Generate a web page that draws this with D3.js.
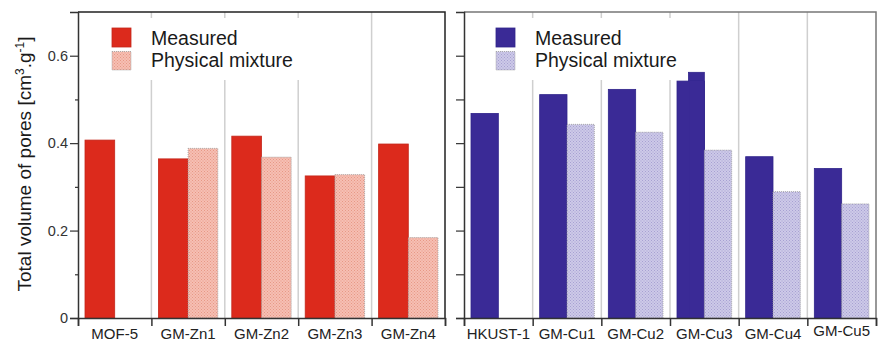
<!DOCTYPE html>
<html>
<head>
<meta charset="utf-8">
<script src="https://cdn.jsdelivr.net/npm/d3@7"></script>
<style>
  body { margin: 0; background: #fff; }
  svg { display: block; font-family: Arial, "Liberation Sans", sans-serif; }
</style>
</head>
<body>
<div id="area"></div>
<script>
var znCats = ["MOF-5", "GM-Zn1", "GM-Zn2", "GM-Zn3", "GM-Zn4"];
var znMeasured = [0.407, 0.364, 0.416, 0.325, 0.398];
var znPhysical = [null, 0.388, 0.368, 0.328, 0.184];

var cuCats = ["HKUST-1", "GM-Cu1", "GM-Cu2", "GM-Cu3", "GM-Cu4", "GM-Cu5"];
var cuMeasured = [0.468, 0.511, 0.523, 0.542, 0.369, 0.342];
var cuPhysical = [null, 0.443, 0.425, 0.384, 0.289, 0.261];
// GM-Cu3 measured bar has a raised step on its right part
var cuMeasuredStep = [null, null, null, 0.562, null, null];

var seriesKeys = ["measured", "physical"];
var legendLabels = ["Measured", "Physical mixture"];
var yTicksMajor = [0, 0.2, 0.4, 0.6];
var yTicksMinor = [0.1, 0.3, 0.5];
var yTicksAll = [0, 0.1, 0.2, 0.3, 0.4, 0.5, 0.6];

var W = 878, H = 342;
var plotTop = 12, plotBottom = 318;

var svg = d3.select("#area").append("svg")
  .attr("width", W).attr("height", H);

var defs = svg.append("defs");
function hatch(id, bg, dot) {
  var p = defs.append("pattern").attr("id", id)
    .attr("width", 3).attr("height", 3)
    .attr("patternUnits", "userSpaceOnUse");
  p.append("rect").attr("width", 3).attr("height", 3).attr("fill", bg);
  p.append("rect").attr("width", 1).attr("height", 1).attr("fill", dot);
  p.append("rect").attr("x", 1.5).attr("y", 1.5).attr("width", 1).attr("height", 1).attr("fill", dot);
}
hatch("pinkHatch", "#f6bfb3", "#e79886");
hatch("lavHatch", "#cdc9e8", "#a7a1d2");

var y = d3.scaleLinear().domain([0, 0.7]).range([plotBottom, plotTop]);

function panel(opt) {
  var g = svg.append("g");
  var n = opt.cats.length;
  var x = d3.scaleBand().domain(opt.cats).range([opt.x0, opt.x1]);
  var bw = x.bandwidth();
  var xs = d3.scaleBand().domain(seriesKeys).range([7, bw - 7]);
  var edges = d3.scaleLinear().domain([0, n]).range([opt.x0, opt.x1]);

  // separators between categories
  g.selectAll(".sep").data(d3.range(1, n)).enter().append("line")
    .attr("x1", function (d) { return edges(d); })
    .attr("x2", function (d) { return edges(d); })
    .attr("y1", y(0.7)).attr("y2", y(0))
    .attr("stroke", "#cfcfcf").attr("stroke-width", 1.5);

  // legend box background
  g.append("rect")
    .attr("x", opt.x0 + 20).attr("y", 18)
    .attr("width", opt.legendW).attr("height", 62)
    .attr("fill", "#fff");

  var rows = opt.cats.map(function (c, i) {
    return { cat: c, measured: opt.measured[i], physical: opt.physical[i], step: opt.step ? opt.step[i] : null };
  });

  g.selectAll(".st").data(rows.filter(function (d) { return d.step != null; })).enter().append("rect")
    .attr("x", function (d) { return x(d.cat) + xs("measured") + xs.bandwidth() * 0.42; })
    .attr("y", function (d) { return y(d.step); })
    .attr("width", xs.bandwidth() * 0.58)
    .attr("height", function (d) { return y(0) - y(d.step); })
    .attr("fill", opt.color).attr("stroke", opt.stroke).attr("stroke-width", 0.8);

  g.selectAll(".m").data(rows).enter().append("rect")
    .attr("x", function (d) { return x(d.cat) + xs("measured"); })
    .attr("y", function (d) { return y(d.measured); })
    .attr("width", xs.bandwidth())
    .attr("height", function (d) { return y(0) - y(d.measured); })
    .attr("fill", opt.color).attr("stroke", opt.stroke).attr("stroke-width", 0.8);

  // hide the seam between a stepped bar and its base
  g.selectAll(".seam").data(rows.filter(function (d) { return d.step != null; })).enter().append("rect")
    .attr("x", function (d) { return x(d.cat) + xs("measured") + xs.bandwidth() * 0.42 + 0.6; })
    .attr("y", function (d) { return y(d.measured) - 0.2; })
    .attr("width", xs.bandwidth() * 0.58 - 1.2)
    .attr("height", function (d) { return y(0) - y(d.measured) - 0.5; })
    .attr("fill", opt.color);

  g.selectAll(".p").data(rows.filter(function (d) { return d.physical != null; })).enter().append("rect")
    .attr("x", function (d) { return x(d.cat) + xs("physical"); })
    .attr("y", function (d) { return y(d.physical); })
    .attr("width", xs.bandwidth())
    .attr("height", function (d) { return y(0) - y(d.physical); })
    .attr("fill", "url(#" + opt.hatch + ")")
    .attr("stroke", "#9a9a9a").attr("stroke-width", 0.8).attr("stroke-dasharray", "1,1");

  // frame top + right
  g.append("path")
    .attr("d", "M" + opt.x0 + "," + y(0.7) + "H" + opt.x1 + "V" + y(0))
    .attr("fill", "none").attr("stroke", opt.frame).attr("stroke-width", 1.5);

  // x axis with ticks at category edges
  var xa = g.append("g").attr("transform", "translate(0," + y(0) + ")")
    .call(d3.axisBottom(edges).tickValues(d3.range(n + 1)).tickSize(8).tickFormat(""));
  xa.select(".domain").attr("stroke", "#333").attr("stroke-width", 1.5);
  xa.selectAll(".tick line").attr("stroke", "#333").attr("stroke-width", 1.5);

  var xl = g.append("g").attr("transform", "translate(0," + y(0) + ")")
    .call(d3.axisBottom(x).tickSize(0).tickPadding(10));
  xl.select(".domain").remove();
  xl.selectAll("text").attr("font-size", 15).attr("fill", "#222")
    .attr("dy", function (d) { return d === "GM-Cu5" ? "0.5em" : "0.71em"; });

  // y axis
  var ya = g.append("g").attr("transform", "translate(" + opt.x0 + ",0)");
  if (opt.labels) {
    ya.call(d3.axisLeft(y).tickValues(yTicksMajor).tickSize(8).tickPadding(2)
      .tickFormat(function (d) { return d === 0 ? "0" : d3.format(".1f")(d); }));
    ya.selectAll("text").attr("font-size", 14.5).attr("fill", "#333");
    var ym = g.append("g").attr("transform", "translate(" + opt.x0 + ",0)")
      .call(d3.axisLeft(y).tickValues(yTicksMinor).tickSize(3).tickFormat(""));
    ym.select(".domain").remove();
    ym.selectAll("line").attr("stroke", "#333").attr("stroke-width", 1.2);
  } else {
    ya.call(d3.axisLeft(y).tickValues(yTicksAll).tickSize(8).tickFormat(""));
  }
  ya.select(".domain").attr("stroke", "#333").attr("stroke-width", 1.5);
  ya.selectAll(".tick line").attr("stroke", "#333").attr("stroke-width", 1.2);

  // legend
  var lg = g.append("g");
  var lx = opt.x0 + opt.legendDx;
  lg.append("rect").attr("x", lx).attr("y", 28).attr("width", 19).attr("height", 19)
    .attr("fill", opt.color).attr("stroke", opt.stroke).attr("stroke-width", 0.8);
  lg.append("rect").attr("x", lx).attr("y", 51.5).attr("width", 19).attr("height", 18.5)
    .attr("fill", "url(#" + opt.hatch + ")").attr("stroke", "#9a9a9a").attr("stroke-width", 0.8).attr("stroke-dasharray", "1,1");
  lg.selectAll("text").data(legendLabels).enter().append("text")
    .attr("x", lx + 39)
    .attr("y", function (d, i) { return 45 + i * 22; })
    .attr("font-size", 19.5).attr("fill", "#1a1a1a")
    .text(function (d) { return d; });
}

panel({
  cats: znCats, measured: znMeasured, physical: znPhysical,
  x0: 78, x1: 445, color: "#dc2a1c", stroke: "#c4271b", hatch: "pinkHatch",
  frame: "#222", labels: true, legendW: 204, legendDx: 34
});

panel({
  cats: cuCats, measured: cuMeasured, physical: cuPhysical, step: cuMeasuredStep,
  x0: 464, x1: 876, color: "#3a2a96", stroke: "#30248a", hatch: "lavHatch",
  frame: "#777", labels: false, legendW: 204, legendDx: 32
});

// y axis title
var title = svg.append("text")
  .attr("transform", "translate(31,164) rotate(-90)")
  .attr("text-anchor", "middle")
  .attr("font-size", 19).attr("fill", "#1a1a1a");
title.append("tspan").text("Total volume of pores [cm");
title.append("tspan").attr("dy", -7).attr("font-size", 12).text("3");
title.append("tspan").attr("dy", 7).text(".g");
title.append("tspan").attr("dy", -7).attr("font-size", 12).text("-1");
title.append("tspan").attr("dy", 7).text("]");
</script>
</body>
</html>
